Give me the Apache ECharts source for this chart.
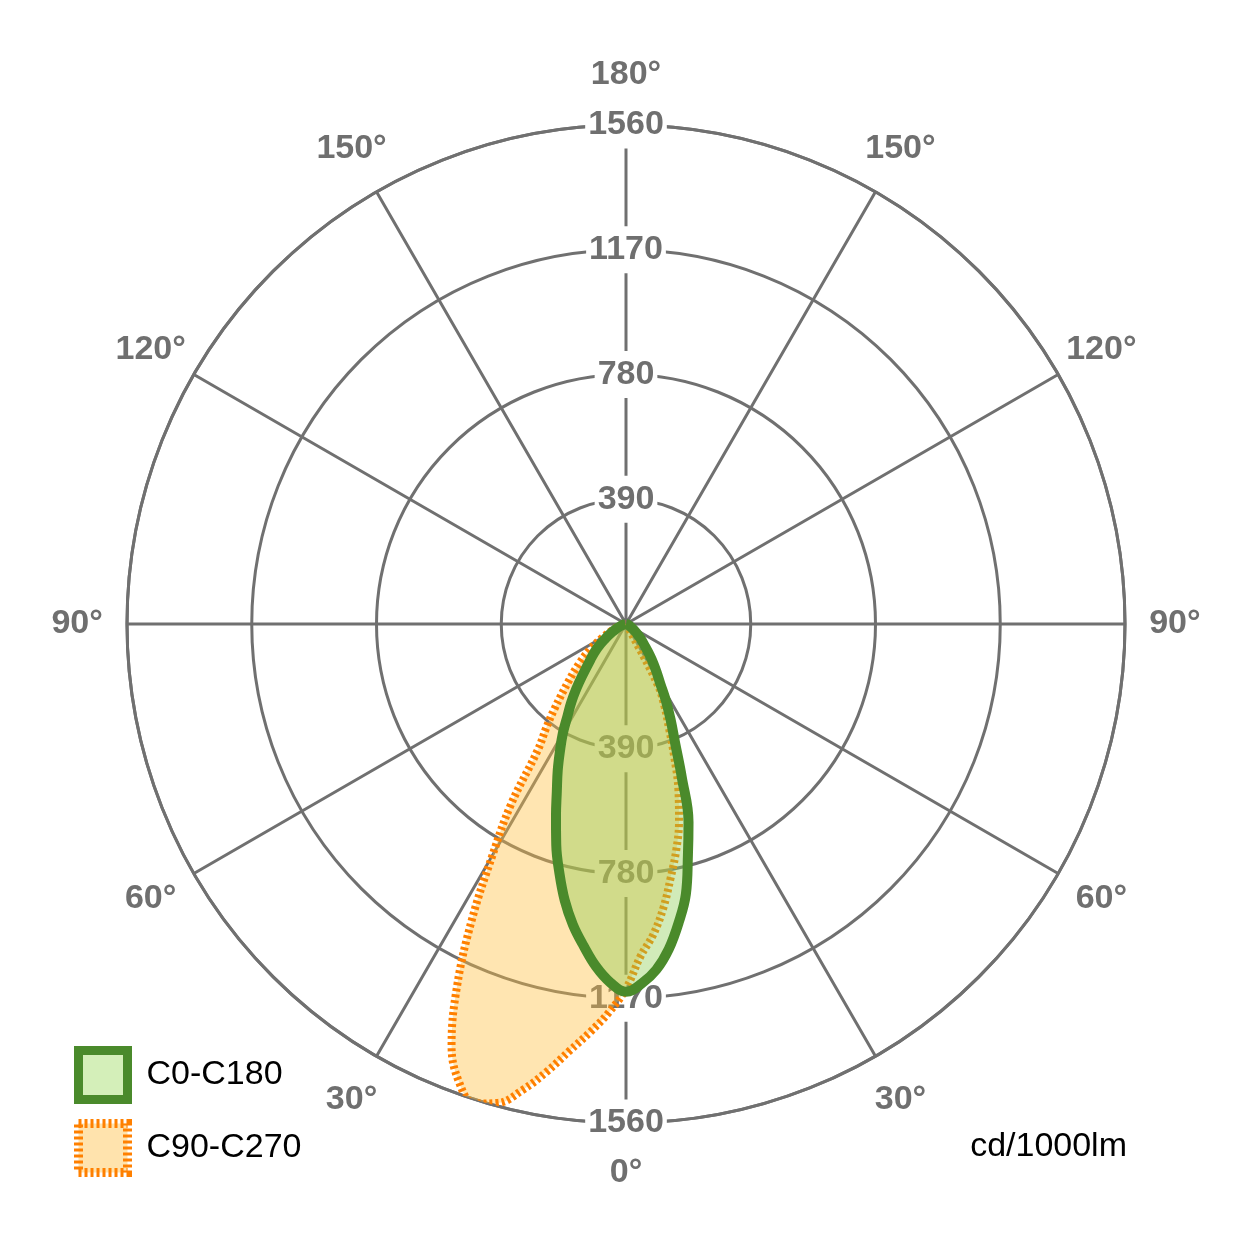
<!DOCTYPE html>
<html>
<head>
<meta charset="utf-8">
<script src="https://cdn.jsdelivr.net/npm/echarts@6/dist/echarts.min.js"></script>
<style>
html,body{margin:0;padding:0;background:#ffffff;}
#chart{width:1250px;height:1251px;}
</style>
</head>
<body>
<div id="chart"></div>
<script>
// ---- data (cd/1000lm) ----
const gammaAngles = [0, 2.5, 5, 7.5, 10, 12.5, 15, 17.5, 20, 22.5, 25, 27.5, 30, 32.5, 35, 37.5, 40, 45, 50, 55, 60, 65, 70, 75, 80, 85, 90];
const c0   = [1150, 1125, 1085, 1025, 948, 865, 748, 650, 510, 400, 330, 270, 213, 178, 148, 120, 95, 65, 40, 25, 15, 9, 5, 3, 1, 0, 0];
const c180 = [1150, 1122, 1075, 1015, 955, 885, 805, 725, 640, 565, 505, 447, 395, 340, 298, 255, 215, 157, 118, 78, 50, 30, 18, 10, 5, 2, 0];
const c90  = [1140, 1040, 975, 895, 805, 725, 640, 545, 440, 350, 285, 215, 30, 0, 0, 0, 0, 0, 0, 0, 0, 0, 0, 0, 0, 0, 0];
const c270 = [1140, 1215, 1280, 1345, 1420, 1492, 1550, 1572, 1525, 1425, 1250, 1045, 835, 670, 480, 410, 350, 255, 190, 135, 85, 50, 30, 15, 8, 3, 0];
const radiusMax = 1560;
const radiusStep = 390;
const angleTicks = [0, 30, 60, 90, 120, 150, 180, 210, 240, 270, 300, 330];
const seriesNames = ['C0-C180', 'C90-C270'];
const unitLabel = 'cd/1000lm';

const FONT = "'Liberation Sans', Arial, Helvetica, sans-serif";
const GRID = '#707070';
const LABEL = '#6f6f6f';

// left half-plane at angle +gamma, right half-plane at 360-gamma
function planePair(leftVals, rightVals) {
  const pts = [];
  for (let i = gammaAngles.length - 1; i >= 0; i--) pts.push([rightVals[i], 360 - gammaAngles[i]]);
  for (let i = 1; i < gammaAngles.length; i++) pts.push([leftVals[i], gammaAngles[i]]);
  return pts;
}

const center = [626, 624];
const radius = 499;
const labelRadius = radiusMax * 1.1; // angle labels sit just outside the outer ring

const radLabel = {
  show: true, margin: 0, align: 'center', verticalAlign: 'middle',
  color: LABEL, fontSize: 34, fontWeight: 'bold', fontFamily: FONT,
  backgroundColor: '#ffffff', padding: [8, 3, 4, 3], lineHeight: 35,
  showMinLabel: false,
  formatter: v => (v === 0 ? '' : String(v))
};

const chart = echarts.init(document.getElementById('chart'), null, { renderer: 'canvas' });
chart.setOption({
  backgroundColor: '#ffffff',
  animation: false,
  polar: [
    { center: center, radius: radius },
    { center: center, radius: radius },
    { center: center, radius: radius }
  ],
  angleAxis: [
    {
      polarIndex: 0, type: 'value', min: 0, max: 360, interval: 30,
      startAngle: 270, clockwise: true, z: 0,
      axisLine: { show: true, lineStyle: { color: GRID, width: 3 } },
      axisTick: { show: false },
      splitLine: { show: true, lineStyle: { color: GRID, width: 3 } },
      axisLabel: { show: false }
    },
    { polarIndex: 1, type: 'value', min: 0, max: 360, startAngle: 90, show: false },
    { polarIndex: 2, type: 'value', min: 0, max: 360, startAngle: 270, show: false }
  ],
  radiusAxis: [
    {
      polarIndex: 0, type: 'value', min: 0, max: radiusMax, interval: radiusStep, z: 0,
      axisLine: { show: false }, axisTick: { show: false }, axisLabel: { show: false },
      splitLine: { show: true, lineStyle: { color: GRID, width: 3 } }
    },
    {
      polarIndex: 1, type: 'value', min: 0, max: radiusMax, interval: radiusStep, z: 1,
      axisLine: { show: false }, axisTick: { show: false }, splitLine: { show: false },
      axisLabel: radLabel
    },
    {
      polarIndex: 2, type: 'value', min: 0, max: radiusMax, interval: radiusStep, z: 1,
      axisLine: { show: false }, axisTick: { show: false }, splitLine: { show: false },
      axisLabel: radLabel
    }
  ],
  title: {
    text: unitLabel, right: 123, top: 1130, padding: 0,
    textStyle: { fontSize: 34, fontWeight: 'normal', color: '#000000', fontFamily: FONT }
  },
  legend: {
    orient: 'vertical', left: 74, top: 1046, padding: 0,
    itemWidth: 49, itemHeight: 49, itemGap: 15, selectedMode: false,
    textStyle: { fontSize: 34, color: '#000000', fontFamily: FONT, padding: [12, 0, 0, 14] },
    data: [
      { name: seriesNames[0], icon: 'rect',
        itemStyle: { color: '#d4efb9', borderColor: '#4a8a2b', borderWidth: 9 } },
      { name: seriesNames[1], icon: 'rect',
        itemStyle: { color: '#ffe3ad', borderColor: '#ff8000', borderWidth: 9, borderType: [3, 3] } }
    ]
  },
  series: [
    {
      name: seriesNames[1], type: 'line', coordinateSystem: 'polar', polarIndex: 0,
      data: planePair(c270, c90), smooth: 0.4, showSymbol: false, symbol: 'none', clip: false, z: 2,
      itemStyle: { color: '#ff8000' },
      lineStyle: { color: '#ff8000', width: 8, type: [3, 3] },
      areaStyle: { color: 'rgba(255,190,60,0.4)', opacity: 1 }
    },
    {
      name: seriesNames[0], type: 'line', coordinateSystem: 'polar', polarIndex: 0,
      data: planePair(c180, c0), smooth: 0.4, showSymbol: false, symbol: 'none', clip: false, z: 3,
      itemStyle: { color: '#4a8a2b' },
      lineStyle: { color: '#4a8a2b', width: 10 },
      areaStyle: { color: 'rgba(140,205,80,0.4)', opacity: 1 }
    },
    {
      name: 'angle-labels', type: 'scatter', coordinateSystem: 'polar', polarIndex: 0,
      data: angleTicks.map(a => [labelRadius, a]),
      symbolSize: 0, itemStyle: { color: LABEL, opacity: 1 }, clip: false, silent: true, z: 1,
      emphasis: { disabled: true },
      label: {
        show: true, position: 'inside', color: LABEL, opacity: 1,
        fontSize: 34, fontWeight: 'bold', fontFamily: FONT, textBorderWidth: 0,
        formatter: p => { const a = p.value[1]; return (a <= 180 ? a : 360 - a) + '°'; }
      }
    }
  ]
});
</script>
</body>
</html>
